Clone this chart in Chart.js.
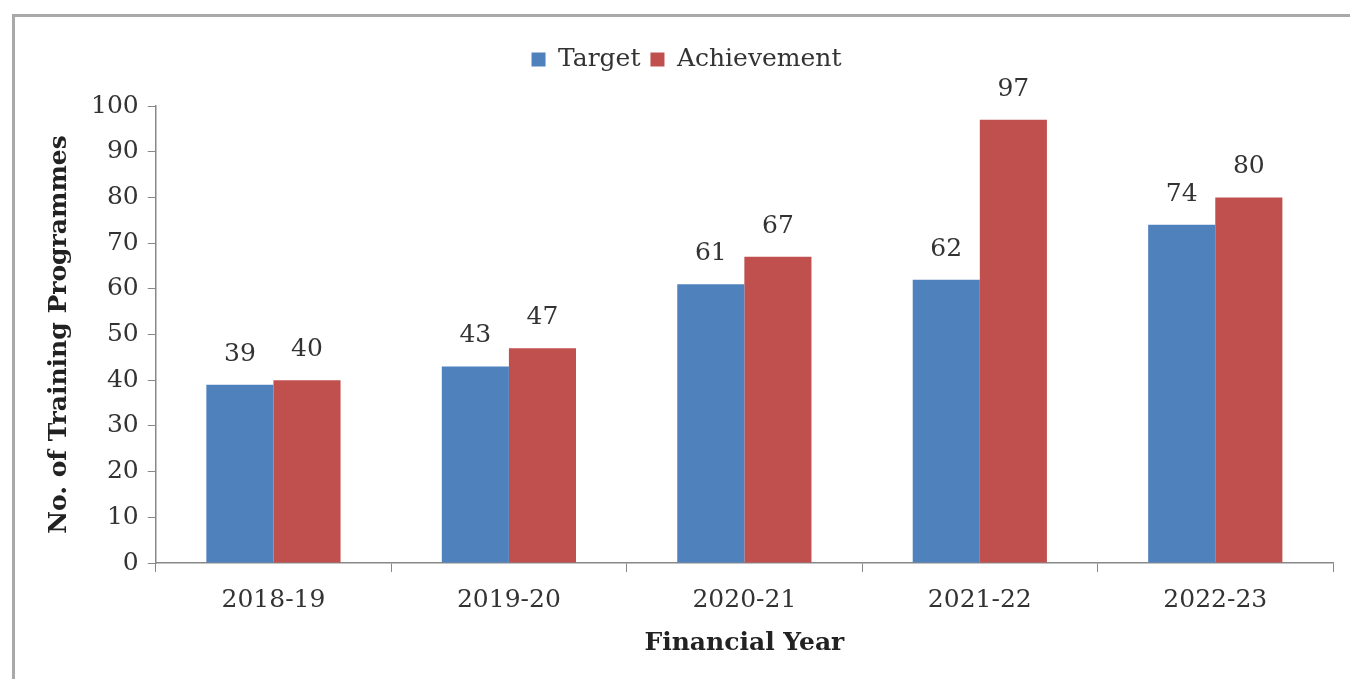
<!DOCTYPE html>
<html>
<head>
<meta charset="utf-8">
<script src="https://cdn.jsdelivr.net/npm/chart.js@4"></script>
<style>
  html, body { margin: 0; padding: 0; background: #fff; overflow: hidden; }
  #frame {
    position: absolute; left: 12px; top: 14px;
    width: 1400px; height: 720px;
    border-left: 3px solid #a9a9a9; border-top: 3px solid #a9a9a9;
  }
  #wrap { position: absolute; left: 0; top: 0; width: 1350px; height: 679px; }
</style>
</head>
<body>
<div id="frame"></div>
<div id="wrap"><canvas id="trainingChart"></canvas></div>
<script>
const years = ['2018-19', '2019-20', '2020-21', '2021-22', '2022-23'];
const target = [39, 43, 61, 62, 74];
const achievement = [40, 47, 67, 97, 80];

const serif = 'DejaVu Serif';

// values printed above each bar
const barValues = {
    id: 'barValues',
    afterDatasetsDraw(chart) {
        const ctx = chart.ctx;
        ctx.save();
        ctx.font = '25px "' + serif + '"';
        ctx.fillStyle = '#333';
        ctx.textAlign = 'center';
        ctx.textBaseline = 'bottom';
        chart.data.datasets.forEach((ds, i) => {
            chart.getDatasetMeta(i).data.forEach((bar, j) => {
                ctx.fillText(ds.data[j], bar.x, bar.y - 18);
            });
        });
        ctx.restore();
    }
};

// extra room between legend and plot
const legendGap = {
    id: 'legendGap',
    beforeInit(chart) {
        const fit = chart.legend.fit;
        chart.legend.fit = function () {
            fit.bind(chart.legend)();
            this.height += 24;
        };
    }
};

new Chart(document.getElementById('trainingChart'), {
    type: 'bar',
    data: {
        labels: years,
        datasets: [
            { label: 'Target', data: target, backgroundColor: '#4F81BD' },
            { label: 'Achievement', data: achievement, backgroundColor: '#C0504D' }
        ]
    },
    options: {
        responsive: true,
        maintainAspectRatio: false,
        animation: false,
        datasets: { bar: { categoryPercentage: 0.57, barPercentage: 1.0 } },
        layout: { padding: { left: 40, right: 17, top: 37, bottom: 17 } },
        plugins: {
            legend: {
                position: 'top',
                labels: {
                    boxWidth: 14, boxHeight: 14, padding: 10,
                    color: '#333',
                    font: { family: serif, size: 25 }
                }
            },
            tooltip: { enabled: false }
        },
        scales: {
            x: {
                border: { color: '#888', width: 1.5 },
                grid: { drawOnChartArea: false, tickLength: 9, color: '#888' },
                ticks: { color: '#333', font: { family: serif, size: 25 }, padding: 13 },
                title: {
                    display: true, text: 'Financial Year', color: '#222',
                    font: { family: serif, size: 25, weight: 'bold' }, padding: { top: 0 }
                }
            },
            y: {
                min: 0, max: 100,
                border: { color: '#888', width: 1.5 },
                grid: { drawOnChartArea: false, tickLength: 8, color: '#888' },
                ticks: { stepSize: 10, color: '#333', font: { family: serif, size: 25 }, padding: 9 },
                title: {
                    display: true, text: 'No. of Training Programmes', color: '#222',
                    font: { family: serif, size: 25, weight: 'bold' }, padding: { bottom: 8 }
                }
            }
        }
    },
    plugins: [barValues, legendGap]
});
</script>
</body>
</html>
